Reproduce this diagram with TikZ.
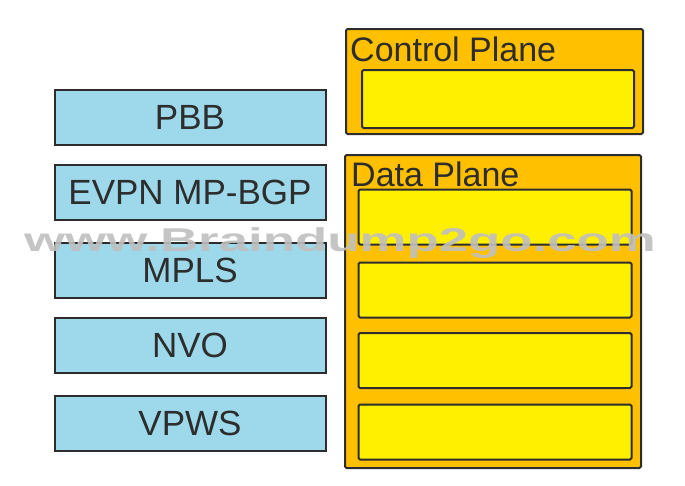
\documentclass[tikz,border=0pt]{standalone}
\usepackage{fontspec}
\setmainfont{Liberation Sans}
\usetikzlibrary{positioning}

\definecolor{layerblue}{RGB}{157,217,234}
\definecolor{planeorange}{RGB}{255,192,0}
\definecolor{slotyellow}{RGB}{255,240,0}
\definecolor{edgegray}{RGB}{45,45,45}

\begin{document}
\begin{tikzpicture}
	[x=1pt,y=-1pt,
	 layer/.style={draw=edgegray,line width=2pt,fill=layerblue,minimum width=271pt,
			minimum height=55pt,inner sep=0pt,text=edgegray,font=\fontsize{35}{35}\selectfont},
	 plane/.style={draw=edgegray,line width=2pt,fill=planeorange,rounded corners=1.5pt,
			inner sep=0pt},
	 slot/.style={draw=edgegray,line width=2pt,fill=slotyellow,rounded corners=1.5pt,
			minimum width=273pt,inner sep=0pt},
	 planetitle/.style={anchor=north west,inner sep=0pt,text=edgegray,
			font=\fontsize{34}{34}\selectfont}]
	\useasboundingbox (0,0) rectangle (685,485);

	% left column
	\foreach \nodeName/\posY/\layerText in {pbb/117/PBB, evpn/192/EVPN MP-BGP,
		mpls/270/MPLS, nvo/345/NVO, vpws/423/VPWS}
	{
		\node[layer] (\nodeName) at (190,\posY) {\layerText};
	}

	% control plane
	\node[plane,minimum width=297pt,minimum height=105pt] (ctrl) at (494.5,81.5) {};
	\node[planetitle] (ctrlTitle) at ([xshift=5pt,yshift=-9pt]ctrl.north west) {Control Plane};
	\node[slot,minimum width=272pt,minimum height=58pt] (ctrlSlot) at (498,99) {};

	% data plane
	\node[plane,minimum width=296pt,minimum height=313pt] (data) at (493,311.5) {};
	\node[planetitle] (dataTitle) at ([xshift=7pt,yshift=-8pt]data.north west) {Data Plane};
	\foreach \slotName/\posY in {dataA/217, dataB/290, dataC/360.5, dataD/432}
	{
		\node[slot,minimum height=55pt] (\slotName) at (495,\posY) {};
	}

	% watermark
	\node[text=gray!50,opacity=.9,xscale=1.6,inner sep=0pt,
		font=\bfseries\fontsize{33}{33}\selectfont] (mark) at (340,243) {www.Braindump2go.com};
\end{tikzpicture}
\end{document}
